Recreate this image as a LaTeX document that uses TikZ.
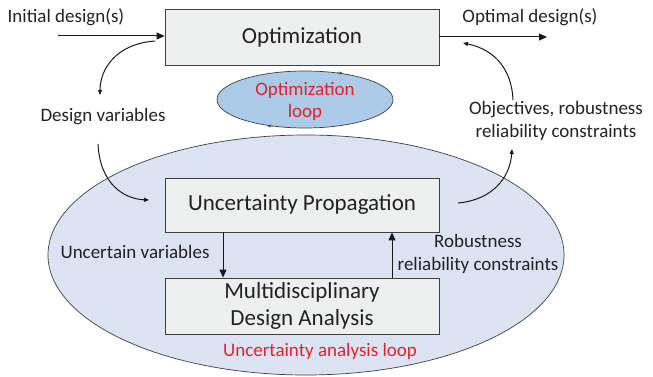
\documentclass[tikz,border=0pt]{standalone}
\usepackage{fontspec}
\setmainfont{Carlito}
\usetikzlibrary{arrows.meta,shapes.geometric,calc}
\definecolor{boxfill}{HTML}{EEF0EF}
\definecolor{boxline}{HTML}{404040}
\definecolor{smallell}{HTML}{ABCBE8}
\definecolor{bigell}{HTML}{DCE3F3}
\definecolor{loopred}{HTML}{E8202A}
\definecolor{txt}{HTML}{222222}
\tikzset{
  procbox/.style={draw=boxline, fill=boxfill, line width=0.8pt, minimum width=274pt, minimum height=56pt, inner sep=0pt, font=\fontsize{23}{27}\selectfont, text=txt, align=center},
  lbl/.style={font=\fontsize{19}{23}\selectfont, text=txt, align=center, inner sep=0pt},
  redlbl/.style={font=\fontsize{19}{22}\selectfont, text=loopred, align=center, inner sep=0pt},
  arr/.style={draw=black!90, line width=1pt, -{Triangle[length=8pt,width=7pt]}},
  carr/.style={draw=black!90, line width=1pt, -{Triangle[length=5pt,width=4pt]}},
}
\begin{document}
\begin{tikzpicture}[x=1pt,y=-1pt]
\useasboundingbox (0,0) rectangle (653,377);
% big ellipse
\node[ellipse, draw=boxline, fill=bigell, line width=0.7pt, minimum width=516pt, minimum height=240pt, inner sep=0pt] (bigloop) at (306,255) {};
% small ellipse
\node[ellipse, draw=boxline, fill=smallell, line width=0.7pt, minimum width=176pt, minimum height=57pt, inner sep=0pt] (oloop) at (305,99.5) {};
\node[redlbl] (oltext) at (305,101) {Optimization\\loop};
% boxes
\node[procbox] (opt) at (302,37) {Optimization};
\node[procbox, minimum height=54pt] (up) at (302,205) {Uncertainty Propagation};
\node[procbox] (mda) at (302,306) {Multidisciplinary\\Design Analysis};
% labels
\node[lbl] (init) at (66,17) {Initial design(s)};
\node[lbl] (optimal) at (530,17) {Optimal design(s)};
\node[lbl] (dv) at (103,117) {Design variables};
\node[lbl] (obj) at (556,121) {Objectives, robustness\\reliability constraints};
\node[lbl] (uv) at (135,252) {Uncertain variables};
\node[lbl] (rob) at (478,254) {Robustness\\reliability constraints};
\node[redlbl] (ual) at (320,351) {Uncertainty analysis loop};
% coordinates
\coordinate (inA) at (58,36);
\coordinate (outB) at (547,37);
% straight arrows
\draw[arr] (inA) -- (inA -| opt.west);
\draw[arr] (opt.east |- outB) -- (outB);
\draw[arr] (up.south -| 223,0) -- (mda.north -| 223,0);
\draw[arr] (mda.north -| 392,0) -- (up.south -| 392,0);
% curved arrows
\draw[carr] (155,41) .. controls (115,44) and (100,70) .. (100,95);
\draw[carr] (98,144) .. controls (100,185) and (125,199) .. (149,200);
\draw[carr] (458,203) .. controls (492,200) and (510,178) .. (512,149);
\draw[carr] (513,100) .. controls (512,72) and (497,50) .. (463,43);
% small loop arrowheads
\draw[draw=boxline, line width=0.5pt, -{Stealth[length=4pt,width=3pt]}] (oloop.40) -- ++(6,0.8);
\draw[draw=boxline, line width=0.5pt, -{Stealth[length=4pt,width=3pt]}] (oloop.-140) -- ++(-6,-0.8);
\end{tikzpicture}
\end{document}
